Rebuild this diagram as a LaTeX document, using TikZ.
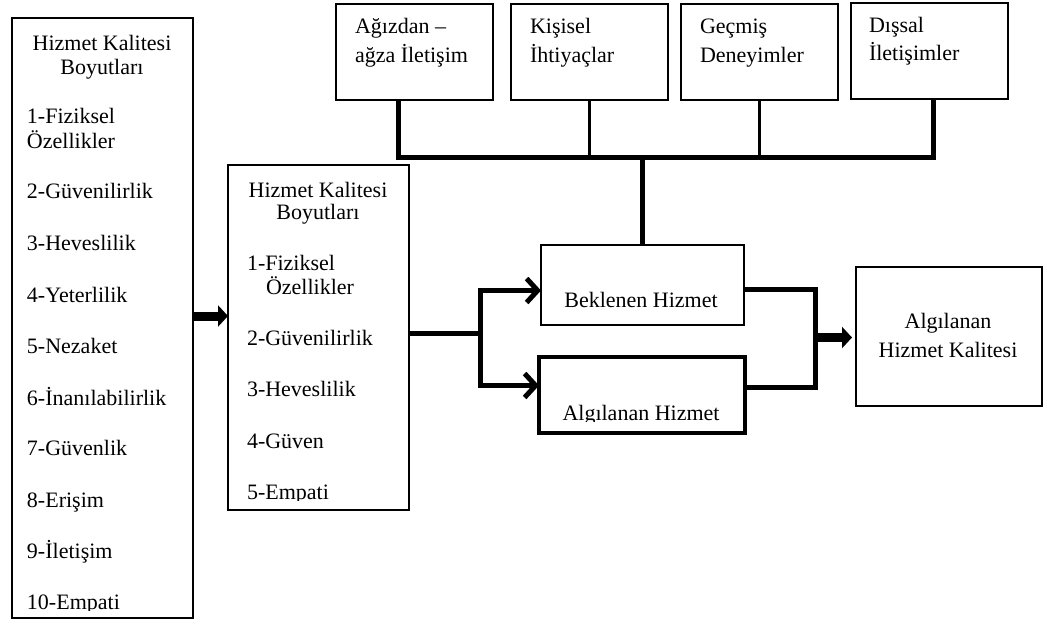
\documentclass[tikz,border=0pt]{standalone}
\usepackage{fontspec}
\setmainfont{Liberation Serif}
\usetikzlibrary{arrows.meta}
\begin{document}
\begin{tikzpicture}[x=1pt,y=-1pt,
  font=\fontsize{22}{26}\selectfont,
  box/.style={draw, line width=1.6pt, inner sep=0pt, outer sep=0pt},
  txt/.style={inner sep=0pt, outer sep=0pt},
  bus/.style={line width=5pt, line join=miter},
  busthin/.style={line width=3.5pt},
  fat/.style={line width=9pt},
  fathead/.style={-{Triangle[length=10pt,width=21pt]}},
  barb/.style={-{Straight Barb[length=11pt,width=24pt]}}]
\useasboundingbox (0,0) rectangle (1047,624);

% boxes
\node[box, minimum width=181pt, minimum height=600pt] (left) at (102.5,318) {};
\node[box, minimum width=181pt, minimum height=345pt] (mid) at (318.5,337.5) {};
\node[box, minimum width=157pt, minimum height=96pt] (b1) at (414.5,52) {};
\node[box, minimum width=157pt, minimum height=96pt] (b2) at (589.5,52) {};
\node[box, minimum width=157pt, minimum height=96pt] (b3) at (759.5,52) {};
\node[box, minimum width=157pt, minimum height=96pt] (b4) at (929.5,51) {};
\node[box, minimum width=203pt, minimum height=80pt] (bek) at (642.5,285) {};
\node[box, line width=4pt, minimum width=206pt, minimum height=76pt] (alg) at (642,395) {};
\node[box, minimum width=186pt, minimum height=139pt] (rbox) at (949,336.5) {};

% left box texts
\node[txt, anchor=base] (lt1) at (102,50) {Hizmet Kalitesi};
\node[txt, anchor=base] (lt2) at (102,74) {Boyutları};
\node[txt, anchor=base west] (l1a) at (27,123) {1-Fiziksel};
\node[txt, anchor=base west] (l1b) at (27,148) {Özellikler};
\node[txt, anchor=base west] (l2) at (27,198) {2-Güvenilirlik};
\node[txt, anchor=base west] (l3) at (27,250) {3-Heveslilik};
\node[txt, anchor=base west] (l4) at (27,302) {4-Yeterlilik};
\node[txt, anchor=base west] (l5) at (27,353) {5-Nezaket};
\node[txt, anchor=base west] (l6) at (27,405) {6-İnanılabilirlik};
\node[txt, anchor=base west] (l7) at (27,455) {7-Güvenlik};
\node[txt, anchor=base west] (l8) at (27,507) {8-Erişim};
\node[txt, anchor=base west] (l9) at (27,558) {9-İletişim};
\begin{scope}
\clip (14,560) rectangle (190,610);
\node[txt, anchor=base west] (l10) at (27,609) {10-Empati};
\end{scope}

% middle box texts
\node[txt, anchor=base] (mt1) at (318,197) {Hizmet Kalitesi};
\node[txt, anchor=base] (mt2) at (318,219) {Boyutları};
\node[txt, anchor=base west] (m1a) at (247,270) {1-Fiziksel};
\node[txt, anchor=base west] (m1b) at (266,294) {Özellikler};
\node[txt, anchor=base west] (m2) at (247,345) {2-Güvenilirlik};
\node[txt, anchor=base west] (m3) at (247,396) {3-Heveslilik};
\node[txt, anchor=base west] (m4) at (247,448) {4-Güven};
\begin{scope}
\clip (230,460) rectangle (407,500);
\node[txt, anchor=base west] (m5) at (247,499) {5-Empati};
\end{scope}

% top box texts
\node[txt, anchor=base west] (t1a) at (355,33) {Ağızdan –};
\node[txt, anchor=base west] (t1b) at (355,62) {ağza İletişim};
\node[txt, anchor=base west] (t2a) at (530,33) {Kişisel};
\node[txt, anchor=base west] (t2b) at (530,62) {İhtiyaçlar};
\node[txt, anchor=base west] (t3a) at (700,33) {Geçmiş};
\node[txt, anchor=base west] (t3b) at (700,62) {Deneyimler};
\node[txt, anchor=base west] (t4a) at (869,32) {Dışsal};
\node[txt, anchor=base west] (t4b) at (869,60) {İletişimler};

% inner boxes texts
\node[txt, anchor=base] (bekt) at (641,307) {Beklenen Hizmet};
\begin{scope}
\clip (542,370) rectangle (743,421);
\node[txt, anchor=base] (algt) at (641,420) {Algılanan Hizmet};
\end{scope}
\node[txt, anchor=base] (r1) at (948,328) {Algılanan};
\node[txt, anchor=base] (r2) at (948,357) {Hizmet Kalitesi};

% connectors: top bus
\coordinate (bar) at (642.5,157);
\draw[bus] ([xshift=-16.5pt]b1.south) |- (bar) -| ([xshift=3.5pt]b4.south);
\draw[busthin] (b2.south) -- (b2.south |- bar);
\draw[busthin] (b3.south) -- (b3.south |- bar);
\draw[bus] (bar) -- (bek.north);

% left to middle
\coordinate (yl) at (0,316);
\draw[fat, fathead] (left.east |- yl) -- (mid.west |- yl);

% middle fork
\coordinate (fork) at (480.5,333);
\coordinate (yup) at (0,290.5);
\coordinate (ydn) at (0,385.5);
\draw[bus] (mid.east |- fork) -- (fork);
\draw[bus, barb] (fork) |- (bek.west |- yup);
\draw[bus, barb] (fork) |- (alg.west |- ydn);

% right join
\coordinate (rj) at (815.5,337.5);
\coordinate (yrt) at (0,289);
\coordinate (yrb) at (0,387);
\draw[bus] (bek.east |- yrt) -| (rj) |- (alg.east |- yrb);
\draw[fat, fathead] (rj) -- ([xshift=-4pt]rbox.west |- rj);
\end{tikzpicture}
\end{document}
